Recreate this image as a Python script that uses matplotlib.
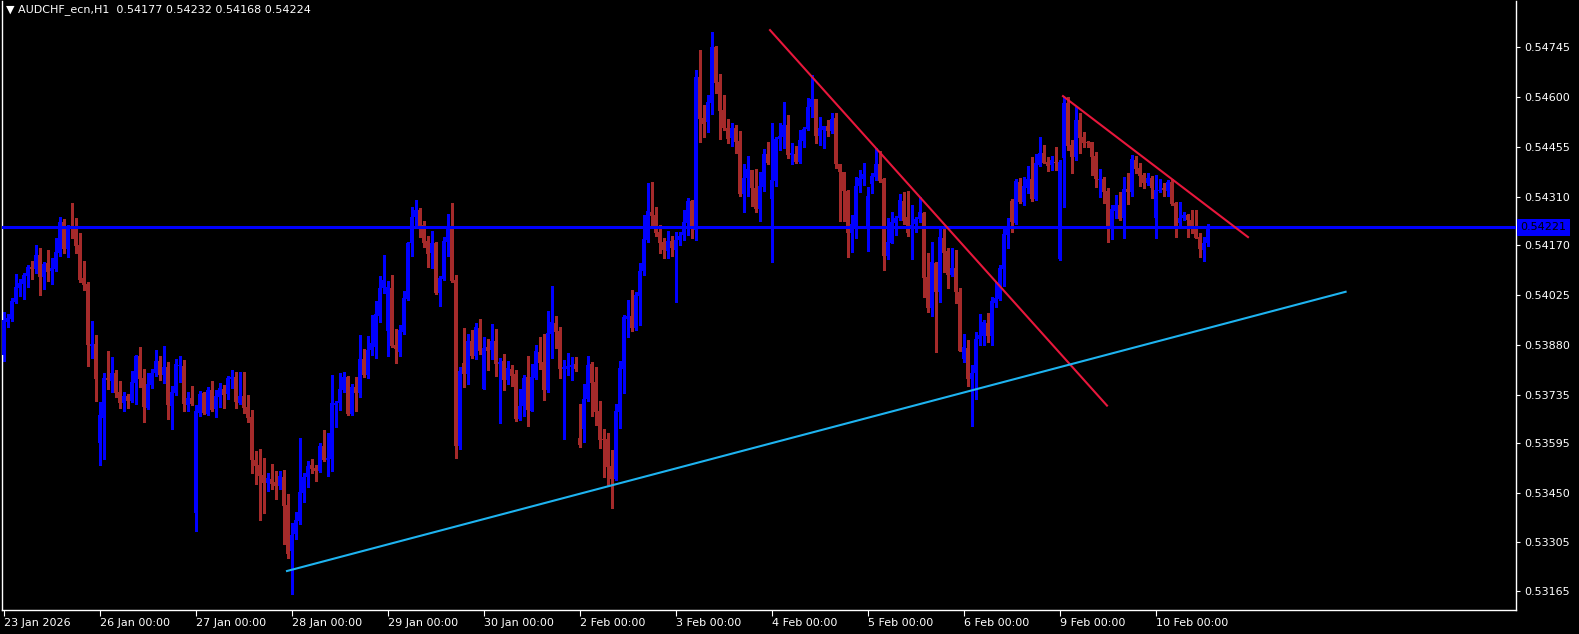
import numpy as np
import matplotlib
matplotlib.use('Agg')
import matplotlib.pyplot as plt

# AUDCHF hourly bars, 23 Jan 2026 00:00 .. 10 Feb 2026 13:00 (prices in points, 1e-5)
symbol = 'AUDCHF_ecn,H1'
day_labels = ['23 Jan 2026', '26 Jan 00:00', '27 Jan 00:00', '28 Jan 00:00', '29 Jan 00:00',
              '30 Jan 00:00', '2 Feb 00:00', '3 Feb 00:00', '4 Feb 00:00', '5 Feb 00:00',
              '6 Feb 00:00', '9 Feb 00:00', '10 Feb 00:00']

opens = [
    53850, 53946, 53955, 54004, 54045, 54057, 54080, 54106, 54100, 54141,
    54077, 54118, 54094, 54100, 54147, 54237, 54158, 54222, 54217, 54170,
    54074, 54057, 53876, 53882, 53594, 53667, 53783, 53775, 53798, 53743,
    53711, 53731, 53716, 53769, 53847, 53783, 53696, 53763, 53798, 53833,
    53792, 53815, 53702, 53740, 53818, 53818, 53705, 53725, 53391, 53681,
    53740, 53679, 53748, 53693, 53728, 53751, 53737, 53780, 53786, 53711,
    53731, 53699, 53670, 53545, 53530, 53501, 53478, 53490, 53481, 53469,
    53496, 53414, 53280, 53330, 53367, 53449, 53496, 53530, 53522, 53513,
    53586, 53545, 53548, 53705, 53711, 53748, 53786, 53679, 53757, 53740,
    53839, 53792, 53865, 53873, 53963, 54045, 53920, 54045, 53879, 53859,
    53917, 54013, 54176, 54251, 54272, 54228, 54182, 54147, 54176, 54030,
    54071, 54179, 54220, 54068, 53586, 53827, 53795, 53891, 53847, 53929,
    53751, 53873, 53865, 53891, 53824, 53833, 53778, 53809, 53795, 53664,
    53702, 53786, 53687, 53783, 53859, 53830, 53748, 53911, 53943, 53920,
    53809, 53809, 53815, 53824, 53609, 53635, 53722, 53824, 53772, 53687,
    53606, 53606, 53527, 53490, 53684, 53809, 53955, 53963, 53929, 54022,
    54094, 54185, 54266, 54257, 54208, 54179, 54153, 54182, 54156, 54185,
    54199, 54234, 54298, 54214, 54659, 54539, 54528, 54583, 54746, 54644,
    54563, 54510, 54481, 54510, 54472, 54318, 54365, 54388, 54336, 54275,
    54339, 54435, 54304, 54356, 54478, 54484, 54519, 54432, 54435, 54411,
    54472, 54507, 54571, 54594, 54487, 54504, 54516, 54501, 54539, 54405,
    54382, 54327, 54205, 54217, 54342, 54362, 54217, 54348, 54368, 54405,
    54362, 54138, 54176, 54234, 54248, 54298, 54251, 54220, 54231, 54246,
    54263, 54077, 53987, 54118, 54033, 54190, 54153, 54083, 54103, 54033,
    53839, 53870, 53780, 53798, 53897, 53905, 53943, 53905, 54001, 54013,
    54100, 54199, 54298, 54234, 54353, 54295, 54336, 54362, 54304, 54403,
    54437, 54411, 54403, 54411, 54129, 54423, 54583, 54461, 54426, 54534,
    54484, 54469, 54469, 54429, 54359, 54362, 54327, 54225, 54269, 54287,
    54248, 54333, 54324, 54417, 54394, 54374, 54350, 54365, 54248, 54327,
    54336, 54327, 54353, 54292, 54234, 54248, 54257, 54243, 54222, 54193,
    54156, 54177]

highs = [
    53975, 53969, 54016, 54086, 54071, 54089, 54112, 54124, 54170, 54161,
    54121, 54156, 54132, 54190, 54251, 54246, 54228, 54292, 54248, 54205,
    54124, 54062, 53949, 53908, 53714, 53798, 53862, 53844, 53807, 53775,
    53743, 53737, 53804, 53850, 53873, 53809, 53798, 53809, 53865, 53847,
    53876, 53830, 53760, 53839, 53847, 53836, 53743, 53760, 53705, 53746,
    53743, 53757, 53775, 53748, 53769, 53763, 53789, 53807, 53801, 53801,
    53801, 53734, 53690, 53571, 53577, 53551, 53507, 53533, 53513, 53513,
    53516, 53446, 53362, 53394, 53609, 53507, 53542, 53548, 53530, 53594,
    53632, 53623, 53792, 53716, 53798, 53801, 53789, 53766, 53786, 53908,
    53868, 53905, 53966, 54007, 54080, 54141, 54065, 54083, 53926, 53937,
    54036, 54179, 54281, 54301, 54278, 54240, 54196, 54211, 54179, 54080,
    54193, 54260, 54292, 54083, 53815, 53929, 53911, 53923, 53943, 53955,
    53903, 53897, 53940, 53926, 53841, 53853, 53833, 53821, 53807, 53751,
    53792, 53847, 53824, 53879, 53903, 53911, 53978, 54051, 53963, 53932,
    53836, 53856, 53844, 53844, 53708, 53766, 53847, 53830, 53815, 53716,
    53635, 53623, 53574, 53708, 53833, 53966, 54010, 54039, 54033, 54118,
    54257, 54350, 54353, 54281, 54228, 54190, 54211, 54196, 54208, 54208,
    54272, 54307, 54301, 54679, 54737, 54577, 54606, 54789, 54749, 54667,
    54606, 54536, 54525, 54519, 54501, 54405, 54429, 54388, 54391, 54382,
    54449, 54469, 54525, 54484, 54525, 54586, 54548, 54467, 54458, 54504,
    54513, 54598, 54664, 54594, 54542, 54516, 54534, 54554, 54554, 54405,
    54382, 54330, 54257, 54368, 54388, 54408, 54339, 54379, 54452, 54443,
    54365, 54248, 54266, 54254, 54318, 54324, 54327, 54287, 54251, 54310,
    54266, 54147, 54179, 54121, 54220, 54220, 54161, 54161, 54156, 54045,
    53911, 53894, 53821, 53917, 53969, 53952, 53972, 54019, 54062, 54112,
    54222, 54248, 54304, 54362, 54365, 54368, 54400, 54426, 54435, 54484,
    54461, 54426, 54429, 54455, 54417, 54600, 54600, 54475, 54571, 54554,
    54499, 54472, 54469, 54440, 54391, 54368, 54336, 54287, 54316, 54324,
    54368, 54379, 54432, 54429, 54408, 54379, 54379, 54371, 54374, 54362,
    54350, 54359, 54362, 54295, 54295, 54266, 54260, 54272, 54272, 54205,
    54193, 54232]

lows = [
    53833, 53932, 53949, 54001, 54022, 54013, 54048, 54071, 54089, 54025,
    54042, 54065, 54057, 54094, 54138, 54147, 54135, 54190, 54147, 54062,
    54039, 53818, 53841, 53716, 53530, 53548, 53751, 53743, 53728, 53696,
    53687, 53696, 53714, 53708, 53757, 53655, 53693, 53754, 53789, 53778,
    53769, 53664, 53635, 53734, 53772, 53687, 53687, 53705, 53338, 53673,
    53679, 53676, 53687, 53670, 53699, 53696, 53722, 53754, 53696, 53708,
    53681, 53655, 53507, 53475, 53370, 53391, 53455, 53460, 53431, 53460,
    53301, 53260, 53155, 53315, 53359, 53423, 53466, 53507, 53484, 53510,
    53542, 53498, 53513, 53641, 53690, 53743, 53676, 53676, 53687, 53728,
    53786, 53783, 53850, 53841, 53946, 54030, 53847, 53873, 53827, 53847,
    53911, 54010, 54138, 54225, 54193, 54164, 54106, 54103, 54028, 53993,
    54068, 54138, 54062, 53551, 53577, 53757, 53766, 53841, 53839, 53853,
    53751, 53807, 53839, 53789, 53652, 53748, 53766, 53760, 53658, 53661,
    53673, 53644, 53687, 53780, 53809, 53719, 53743, 53841, 53870, 53783,
    53606, 53792, 53778, 53804, 53583, 53597, 53716, 53673, 53647, 53580,
    53496, 53472, 53405, 53487, 53638, 53740, 53903, 53920, 53923, 53937,
    54083, 54179, 54228, 54196, 54147, 54132, 54132, 54138, 54004, 54170,
    54185, 54199, 54190, 54185, 54469, 54484, 54499, 54551, 54612, 54478,
    54504, 54467, 54458, 54437, 54313, 54266, 54313, 54283, 54266, 54240,
    54327, 54405, 54121, 54342, 54446, 54452, 54423, 54405, 54408, 54408,
    54455, 54504, 54542, 54467, 54461, 54452, 54487, 54496, 54394, 54240,
    54240, 54135, 54150, 54190, 54324, 54345, 54153, 54321, 54359, 54353,
    54097, 54129, 54176, 54199, 54243, 54231, 54196, 54129, 54208, 54237,
    54019, 53975, 53963, 53859, 54004, 54092, 54045, 54080, 54001, 53862,
    53830, 53760, 53644, 53722, 53879, 53879, 53888, 53879, 53990, 54010,
    54051, 54161, 54208, 54231, 54292, 54287, 54321, 54298, 54301, 54400,
    54408, 54385, 54388, 54388, 54126, 54281, 54446, 54379, 54417, 54437,
    54455, 54455, 54374, 54339, 54310, 54292, 54179, 54188, 54248, 54243,
    54190, 54289, 54313, 54379, 54342, 54336, 54345, 54307, 54190, 54324,
    54313, 54313, 54287, 54193, 54225, 54243, 54193, 54205, 54190, 54135,
    54124, 54168]

closes = [
    53952, 53958, 54007, 54048, 54060, 54083, 54106, 54100, 54141, 54077,
    54115, 54092, 54103, 54150, 54237, 54158, 54225, 54217, 54167, 54068,
    54054, 53879, 53882, 53780, 53676, 53783, 53778, 53798, 53740, 53711,
    53731, 53716, 53772, 53847, 53780, 53699, 53766, 53798, 53833, 53792,
    53815, 53705, 53743, 53824, 53821, 53708, 53725, 53708, 53687, 53737,
    53681, 53748, 53690, 53731, 53754, 53734, 53783, 53786, 53714, 53731,
    53696, 53667, 53545, 53527, 53498, 53478, 53493, 53475, 53469, 53498,
    53411, 53271, 53327, 53370, 53452, 53496, 53527, 53519, 53513, 53586,
    53545, 53551, 53711, 53711, 53751, 53786, 53679, 53757, 53740, 53839,
    53792, 53865, 53885, 53969, 54045, 54068, 54048, 53876, 53868, 53923,
    54016, 54176, 54251, 54272, 54225, 54176, 54144, 54176, 54030, 54074,
    54182, 54222, 54065, 53586, 53804, 53795, 53891, 53847, 53932, 53862,
    53870, 53862, 53891, 53824, 53830, 53778, 53812, 53789, 53664, 53702,
    53783, 53690, 53786, 53862, 53827, 53748, 53914, 53946, 53917, 53809,
    53815, 53818, 53821, 53809, 53589, 53722, 53821, 53769, 53684, 53603,
    53603, 53524, 53490, 53687, 53812, 53961, 53963, 53929, 54025, 54094,
    54188, 54269, 54254, 54205, 54176, 54156, 54182, 54161, 54185, 54196,
    54237, 54298, 54220, 54659, 54536, 54522, 54586, 54746, 54641, 54560,
    54510, 54478, 54510, 54469, 54318, 54365, 54391, 54336, 54275, 54342,
    54435, 54408, 54359, 54478, 54487, 54519, 54432, 54437, 54411, 54475,
    54507, 54571, 54594, 54487, 54510, 54516, 54501, 54536, 54405, 54382,
    54327, 54205, 54231, 54342, 54365, 54377, 54313, 54371, 54405, 54356,
    54138, 54179, 54237, 54248, 54301, 54240, 54205, 54228, 54246, 54266,
    54074, 53987, 54121, 54033, 54193, 54147, 54083, 54103, 54033, 53862,
    53873, 53780, 53798, 53897, 53908, 53946, 53905, 54007, 54016, 54103,
    54202, 54222, 54237, 54356, 54295, 54342, 54362, 54304, 54408, 54437,
    54408, 54400, 54417, 54408, 54411, 54583, 54458, 54426, 54534, 54481,
    54467, 54467, 54426, 54362, 54362, 54324, 54225, 54275, 54287, 54246,
    54333, 54324, 54420, 54391, 54371, 54350, 54365, 54336, 54330, 54330,
    54330, 54353, 54289, 54225, 54248, 54257, 54243, 54220, 54190, 54158,
    54177, 54224]

hline_price = 0.54221
# trend lines: (bar index, price) endpoints
red_line_1 = [(191.5, 0.54795), (275.75, 0.53703)]
red_line_2 = [(264.75, 0.54603), (311.0, 0.54193)]
cyan_line = [(70.75, 0.53222), (335.4, 0.54034)]
price_ticks = [0.54745, 0.54600, 0.54455, 0.54310, 0.54170, 0.54025,
               0.53880, 0.53735, 0.53595, 0.53450, 0.53305, 0.53165]

o = np.array(opens) / 1e5
h = np.array(highs) / 1e5
l = np.array(lows) / 1e5
c = np.array(closes) / 1e5
x = np.arange(len(o))
up = c >= o

BULL = '#0000FF'
BEAR = '#A52A2A'
colors = np.where(up, BULL, BEAR)

W, H = 1579, 634
fig = plt.figure(figsize=(W / 100, H / 100), dpi=100, facecolor='black')
ax = fig.add_axes([2 / W, 24 / H, 1514 / W, 609 / H])
ax.set_facecolor('black')

# wicks then bodies
ax.vlines(x, l, h, colors=colors, linewidth=1.0, antialiased=False, zorder=2)
body_low = np.minimum(o, c)
body_h = np.maximum(np.abs(c - o), 0.00003)
ax.bar(x, body_h, bottom=body_low, width=0.8, color=colors, linewidth=0,
       antialiased=False, zorder=3)

ax.axhline(hline_price, color='#0000FF', linewidth=2.2, zorder=4)
for line, col in [(red_line_1, '#E8173C'), (red_line_2, '#E8173C'), (cyan_line, '#1EB4F0')]:
    (x0, y0), (x1, y1) = line
    ax.plot([x0, x1], [y0, y1], color=col, linewidth=1.5, zorder=5)

ax.set_xlim(-0.5, 378)
ax.set_ylim(0.531086, 0.548796)

for side in ['left', 'right', 'bottom', 'top']:
    ax.spines[side].set_color('white')
    ax.spines[side].set_linewidth(1)
ax.spines['top'].set_visible(False)

ax.yaxis.tick_right()
ax.set_yticks(price_ticks)
ax.set_yticklabels([f'{p:.5f}' for p in price_ticks])
ax.tick_params(axis='y', colors='white', labelsize=8, length=3, pad=3)

ax.set_xticks(np.arange(len(day_labels)) * 24)
ax.set_xticklabels(day_labels, ha='left')
ax.tick_params(axis='x', colors='white', labelsize=8, length=4, pad=2)

ax.text(1.003, hline_price, f'{hline_price:.5f}', transform=ax.get_yaxis_transform(),
        ha='left', va='center', fontsize=8, color='black',
        bbox=dict(boxstyle='square,pad=0.35', fc='#0000FF', ec='none'))

fig.text(6 / W, 1 - 10 / H,
         f'\u25BC {symbol}  {o[-1]:.5f} {h[-1]:.5f} {l[-1]:.5f} {c[-1]:.5f}',
         color='white', fontsize=8, va='center', ha='left')

fig.savefig('out.png', dpi=100, facecolor='black')
